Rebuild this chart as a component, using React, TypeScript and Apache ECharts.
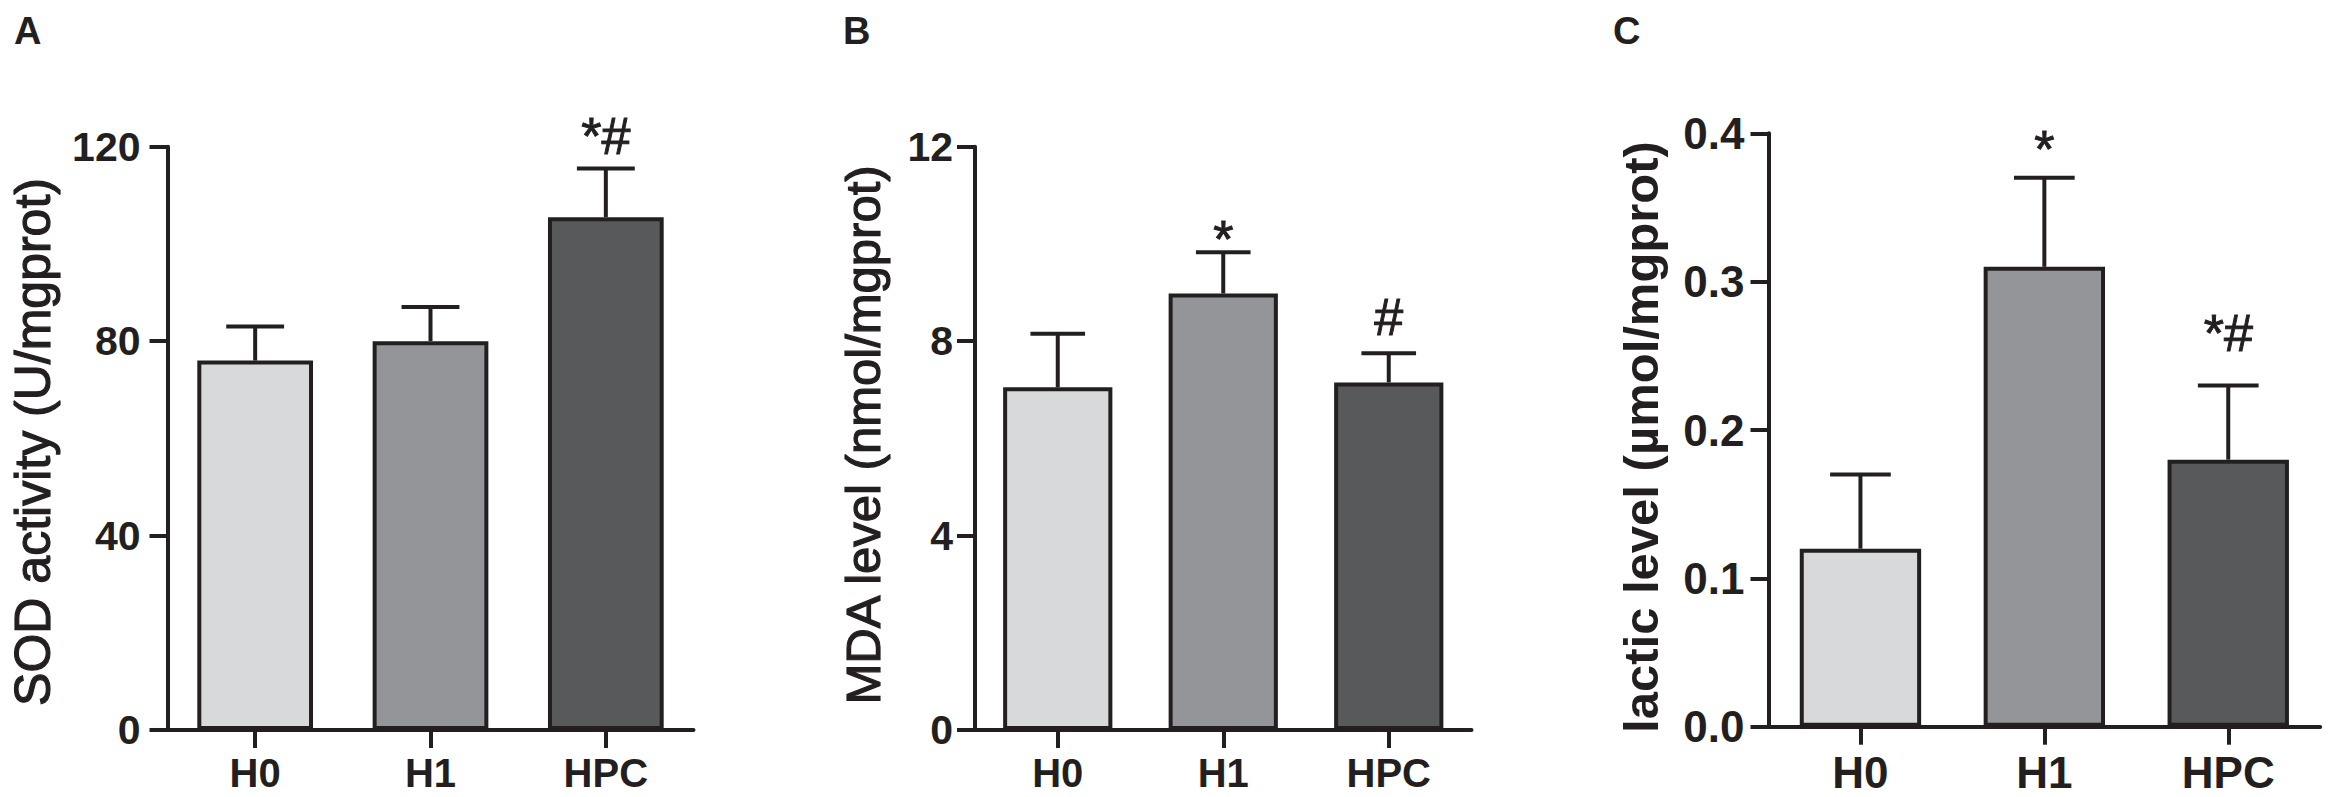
import React, { useEffect, useRef } from "react";
import * as echarts from "echarts";

// ---- data ----
const categories = ["H0", "H1", "HPC"];

const sodMean = [76, 80, 105.5];
const sodSem = [7, 7, 10];
const sodMarks = ["", "", "*#"];
const sodTicks = [0, 40, 80, 120];

const mdaMean = [7.05, 8.98, 7.15];
const mdaSem = [1.1, 0.85, 0.6];
const mdaMarks = ["", "*", "#"];
const mdaTicks = [0, 4, 8, 12];

const lacMean = [0.12, 0.31, 0.18];
const lacSem = [0.05, 0.06, 0.05];
const lacMarks = ["", "*", "*#"];
const lacTicks = [0, 0.1, 0.2, 0.3, 0.4];

const barColors = ["#d8d9da", "#939598", "#58595b"];

const INK = "#231f20";
const FONT = "'Liberation Sans', Arial, Helvetica, sans-serif";

const panels = [
  {
    mean: sodMean, sem: sodSem, marks: sodMarks, ticks: sodTicks, decimals: 0,
    title: "SOD activity (U/mgprot)", titleWeight: "normal", titleStroke: 1.2, titleSize: 50, titleX: 33, titleY: 442,
    letter: "A", letterX: 14,
    left: 167.5, width: 526, top: 146.7, bottom: 730,
    tickFont: 41, xFont: 40, yMargin: 27, xMargin: 23, markGap: 15,
  },
  {
    mean: mdaMean, sem: mdaSem, marks: mdaMarks, ticks: mdaTicks, decimals: 0,
    title: "MDA level (nmol/mgprot)", titleWeight: "normal", titleStroke: 1.2, titleSize: 49, titleX: 863, titleY: 435,
    letter: "B", letterX: 843,
    left: 975, width: 496.5, top: 146.7, bottom: 730,
    tickFont: 41, xFont: 40, yMargin: 22, xMargin: 23, markGap: 18,
  },
  {
    mean: lacMean, sem: lacSem, marks: lacMarks, ticks: lacTicks, decimals: 1,
    title: "lactic level (\u00b5mol/mgprot)", titleWeight: "bold", titleStroke: 0, titleSize: 49, titleX: 1641, titleY: 437,
    letter: "C", letterX: 1613,
    left: 1768.5, width: 551.7, top: 133.3, bottom: 726.7,
    tickFont: 44, xFont: 44, yMargin: 24, xMargin: 24, markGap: 34,
  },
];

const MARK_SIZE = 52;
const BAR_RATIO = 0.66;
const LETTER_SIZE = 38;

function buildOption() {
  const grid: any[] = [];
  const xAxis: any[] = [];
  const yAxis: any[] = [];
  const series: any[] = [];
  const graphic: any[] = [];

  panels.forEach((p, i) => {
    grid.push({ left: p.left, top: p.top, width: p.width, height: p.bottom - p.top, containLabel: false });
    xAxis.push({
      type: "category",
      gridIndex: i,
      data: categories,
      axisLine: { show: true, lineStyle: { color: INK, width: 4 } },
      axisTick: { show: true, alignWithLabel: true, length: 18, lineStyle: { color: INK, width: 4 } },
      axisLabel: { color: INK, fontSize: p.xFont, fontWeight: "bold", fontFamily: FONT, margin: p.xMargin },
      splitLine: { show: false },
    });
    const tk = p.ticks;
    yAxis.push({
      type: "value",
      gridIndex: i,
      min: tk[0],
      max: tk[tk.length - 1],
      interval: tk[1] - tk[0],
      axisLine: { show: true, lineStyle: { color: INK, width: 4 } },
      axisTick: { show: true, length: 18, lineStyle: { color: INK, width: 4 } },
      axisLabel: {
        color: INK, fontSize: p.tickFont, fontWeight: "bold", fontFamily: FONT, margin: p.yMargin,
        formatter: (v: number) => v.toFixed(p.decimals),
      },
      splitLine: { show: false },
    });
    series.push({
      type: "bar",
      xAxisIndex: i,
      yAxisIndex: i,
      barWidth: BAR_RATIO * 100 + "%",
      data: p.mean.map((v, k) => ({ value: v, itemStyle: { color: barColors[k] } })),
      itemStyle: { borderColor: INK, borderWidth: 4 },
      z: 2,
    });
    series.push({
      type: "custom",
      xAxisIndex: i,
      yAxisIndex: i,
      z: 3,
      data: p.mean.map((v, k) => [k, v, v + p.sem[k]]),
      renderItem: (params: any, api: any) => {
        const x = api.value(0);
        const base = api.coord([x, api.value(1)]);
        const top = api.coord([x, api.value(2)]);
        const band = api.size([1, 0])[0];
        const capHalf = band * BAR_RATIO * 0.25;
        const mark = p.marks[params.dataIndex] || "";
        const children: any[] = [
          { type: "line", shape: { x1: base[0], y1: base[1], x2: top[0], y2: top[1] }, style: { stroke: INK, lineWidth: 4 } },
          { type: "line", shape: { x1: top[0] - capHalf, y1: top[1], x2: top[0] + capHalf, y2: top[1] }, style: { stroke: INK, lineWidth: 4 } },
        ];
        if (mark) {
          const onlyStar = mark.indexOf("#") < 0;
          const baseline = top[1] - p.markGap + (onlyStar ? 0.44 * MARK_SIZE : 0);
          children.push({
            type: "text",
            x: top[0],
            y: baseline + 0.153 * MARK_SIZE,
            style: {
              text: mark, fontSize: MARK_SIZE, fontFamily: FONT, fontWeight: "normal",
              fill: INK, stroke: INK, lineWidth: 1, align: "center", verticalAlign: "bottom",
            },
          });
        }
        return { type: "group", children };
      },
    });
    graphic.push({
      type: "text",
      x: p.titleX,
      y: p.titleY,
      rotation: Math.PI / 2,
      style: {
        text: p.title, fontSize: p.titleSize, fontWeight: p.titleWeight, fontFamily: FONT,
        fill: INK, stroke: p.titleStroke ? INK : "none", lineWidth: p.titleStroke,
        align: "center", verticalAlign: "middle",
      },
    });
    graphic.push({
      type: "text",
      x: p.letterX,
      y: 12,
      style: {
        text: p.letter, fontSize: LETTER_SIZE, fontWeight: "bold", fontFamily: FONT,
        fill: INK, align: "left", verticalAlign: "top",
      },
    });
  });

  return {
    animation: false,
    backgroundColor: "#ffffff",
    grid,
    xAxis,
    yAxis,
    series,
    graphic,
  };
}

export default function App() {
  const ref = useRef<HTMLDivElement>(null);
  useEffect(() => {
    if (!ref.current) return;
    const chart = echarts.init(ref.current, null, { renderer: "svg" });
    chart.setOption(buildOption() as any);
    return () => chart.dispose();
  }, []);
  return (
    <div
      ref={ref}
      style={{ position: "fixed", left: 0, top: 0, width: 2333, height: 797, background: "#fff" }}
    />
  );
}
